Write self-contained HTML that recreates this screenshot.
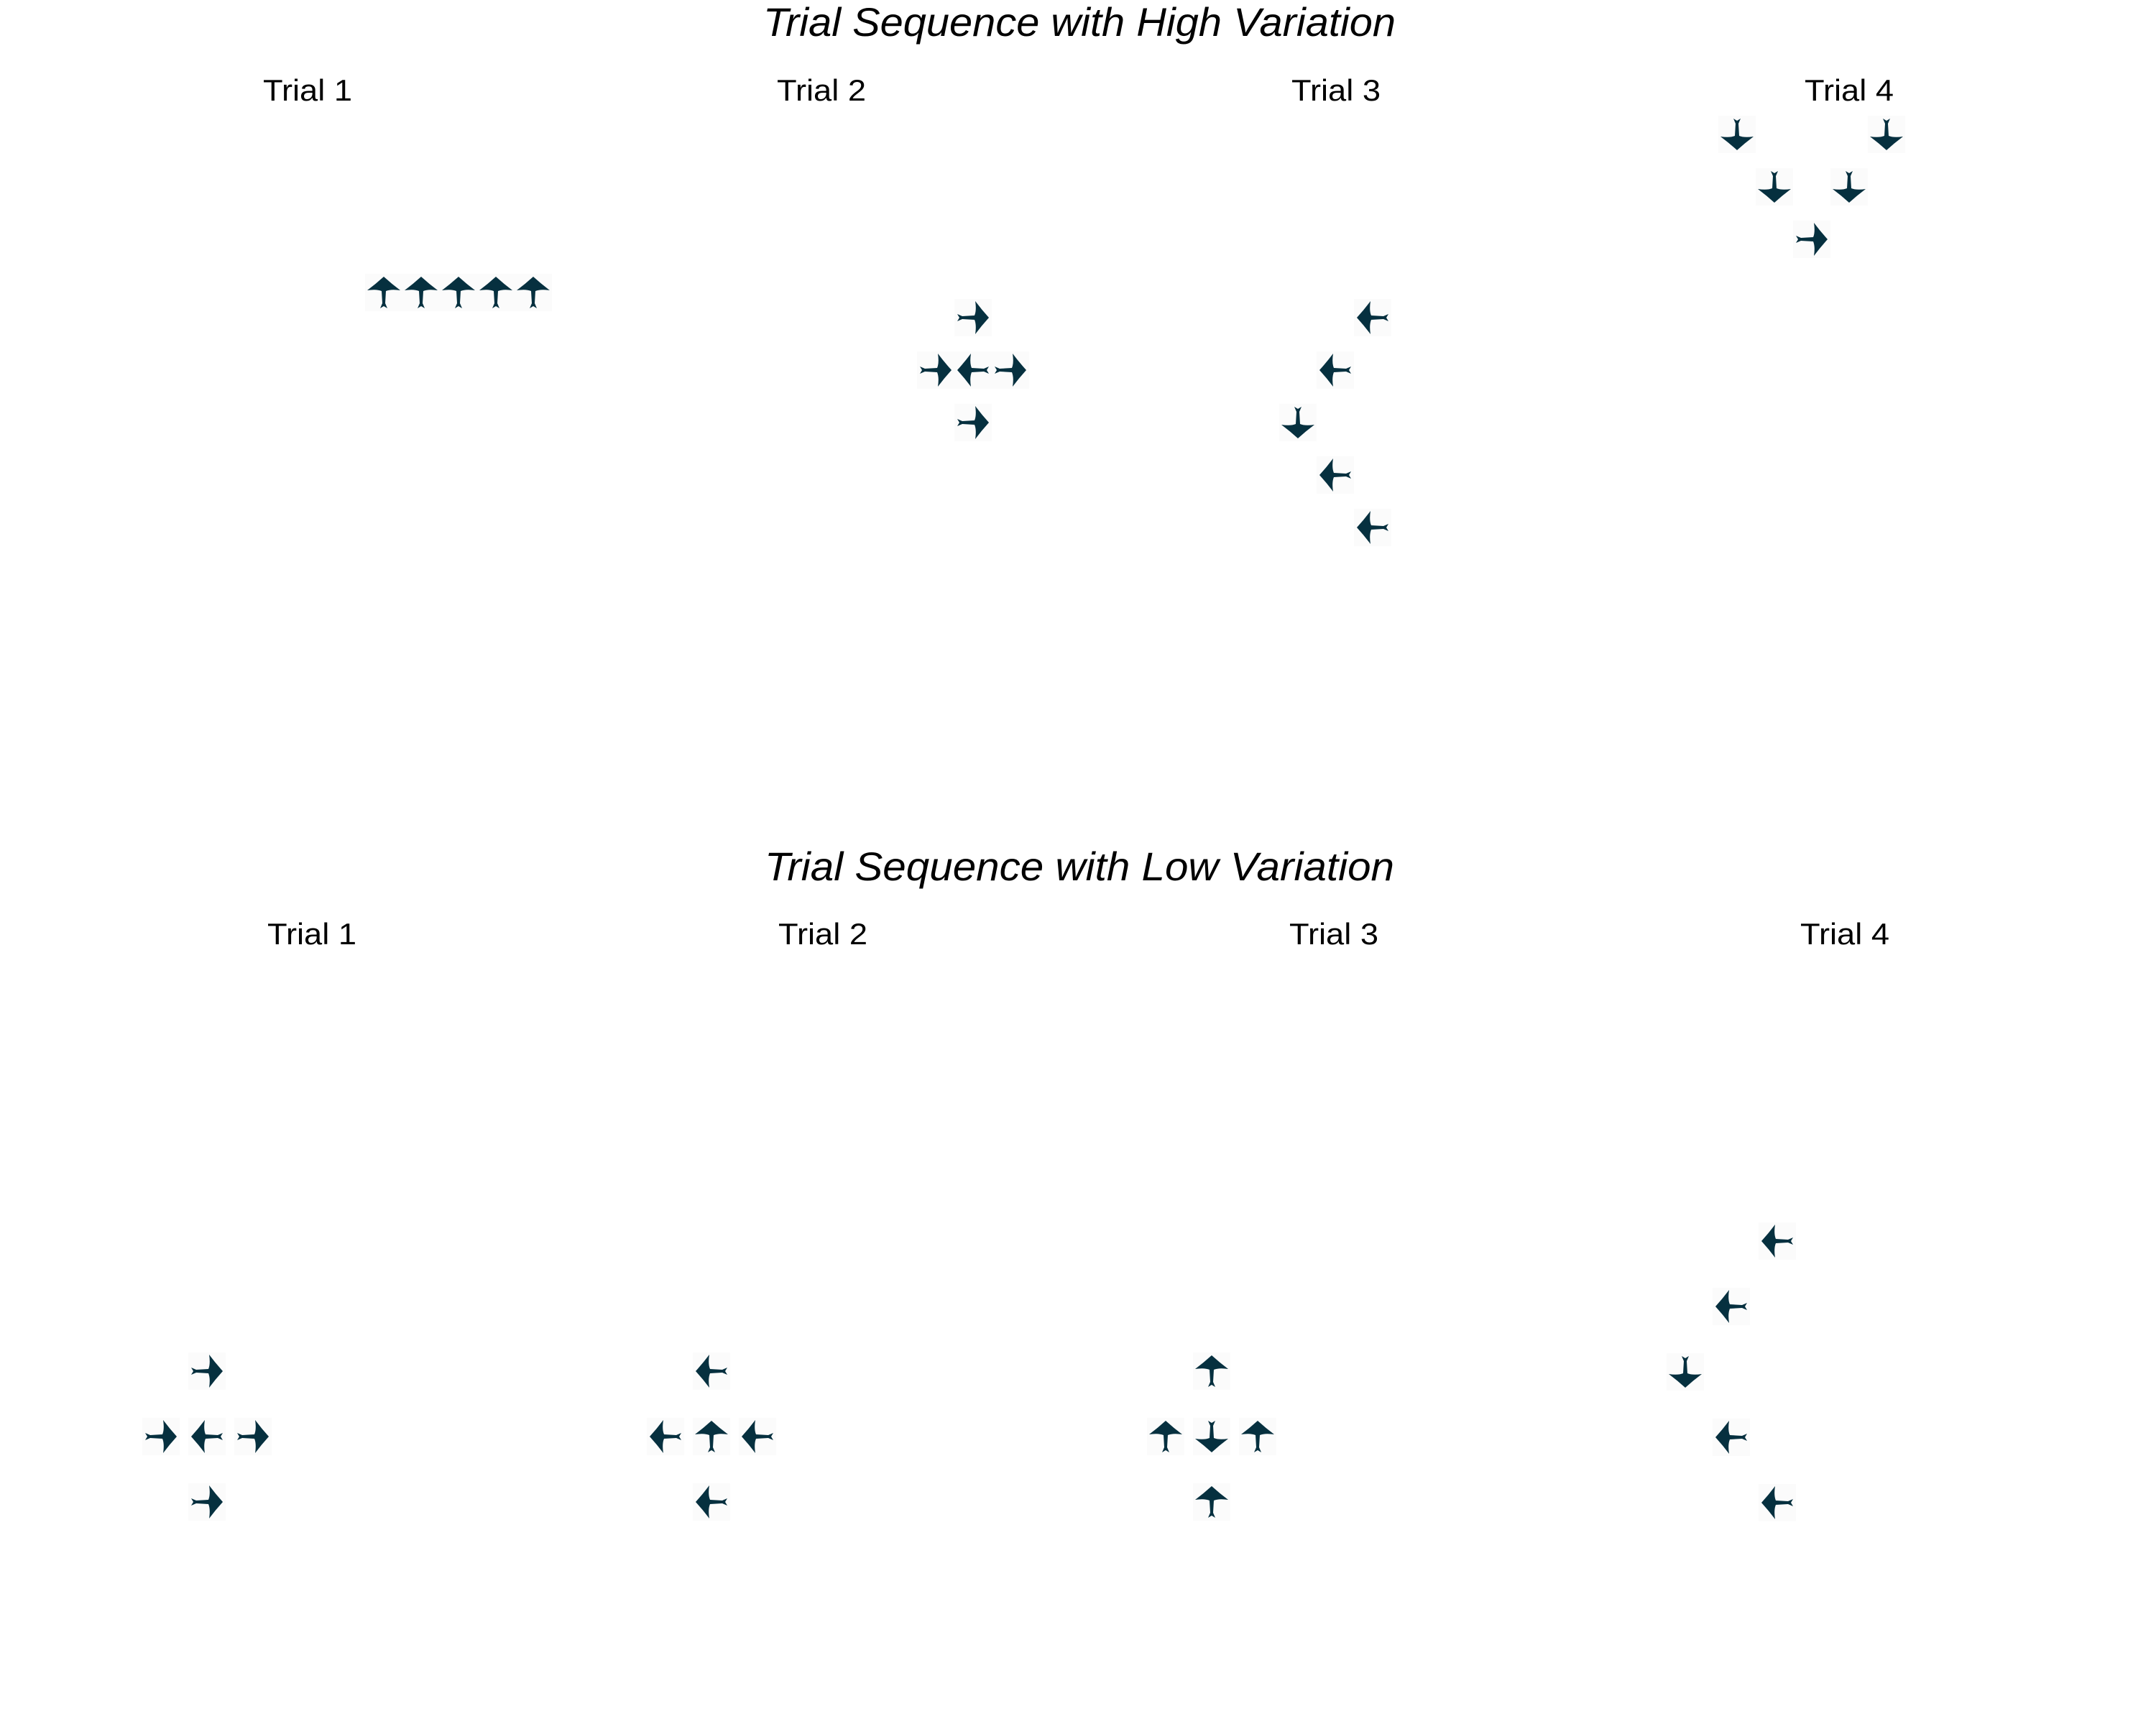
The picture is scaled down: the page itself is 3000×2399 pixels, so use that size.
<!DOCTYPE html>
<html><head><meta charset="utf-8">
<style>html,body{margin:0;padding:0;background:#fff;}svg{display:block;}</style>
</head><body>
<svg id="fig" width="3000" height="2399" viewBox="0 0 3000 2399" xmlns="http://www.w3.org/2000/svg" font-family="Liberation Sans, sans-serif">
<text x="1502" y="50" font-size="56" font-style="italic" text-anchor="middle" textLength="880" lengthAdjust="spacingAndGlyphs">Trial Sequence with High Variation</text>
<text x="1502" y="1225" font-size="56" font-style="italic" text-anchor="middle" textLength="876" lengthAdjust="spacingAndGlyphs">Trial Sequence with Low Variation</text>
<g id="marks"></g>
</svg>
<script>
// trial labels
const trialLabels = ["Trial 1","Trial 2","Trial 3","Trial 4"];
// high variation: grid offsets (col,row) and directions
const highCols = [[-2,-1,0,1,2],[0,-1,0,1,0],[1,0,-1,0,1],[-2,2,-1,1,0]];
const highRows = [[0,0,0,0,0],[-1,0,0,0,1],[-2,-1,0,1,2],[-1,-1,0,0,1]];
const highDirs = [["up","up","up","up","up"],["right","right","left","right","right"],["left","left","down","left","left"],["down","down","down","down","right"]];
// low variation
const lowCols = [[0,-1,0,1,0],[0,-1,0,1,0],[0,-1,0,1,0],[1,0,-1,0,1]];
const lowRows = [[-1,0,0,0,1],[-1,0,0,0,1],[-1,0,0,0,1],[-2,-1,0,1,2]];
const lowDirs = [["right","right","left","right","right"],["left","left","up","left","left"],["up","up","down","up","up"],["left","left","down","left","left"]];

const ns = "http://www.w3.org/2000/svg";
const marks = document.getElementById('marks');
const rot = {up:0,right:90,down:180,left:-90};
const arrowPath = "M0,-22 Q-11,-12 -23,-3 Q-10,-5 -3,-2 L-2,15 L-5,22 L0,19 L5,22 L2,15 L3,-2 Q10,-5 23,-3 Q11,-12 0,-22Z";

const panels = [
  {name:'high', cols:highCols, rows:highRows, dirs:highDirs, dx:52, dy:73,
   cx:[638,1354,1858,2521], cy:[407,515,588,260], lx:[428,1143,1859,2573], ly:140},
  {name:'low', cols:lowCols, rows:lowRows, dirs:lowDirs, dx:64, dy:91,
   cx:[288,990,1686,2409], cy:[1999,1999,1999,1909], lx:[434,1145,1856,2567], ly:1314}
];
function xPos(p,t,c){return p.cx[t]+c*p.dx;}
function yPos(p,t,r){return p.cy[t]+r*p.dy;}

panels.forEach(p=>{
  for(let t=0;t<4;t++){
    const lab=document.createElementNS(ns,'text');
    
    
    lab.setAttribute('x',p.lx[t]);lab.setAttribute('y',p.ly);
    lab.setAttribute('font-size','42');lab.setAttribute('text-anchor','middle');
    lab.setAttribute('textLength','124');lab.setAttribute('lengthAdjust','spacingAndGlyphs');
    lab.textContent=trialLabels[t];
    marks.appendChild(lab);
    for(let i=0;i<p.cols[t].length;i++){
      const x=xPos(p,t,p.cols[t][i]), y=yPos(p,t,p.rows[t][i]);
      const g=document.createElementNS(ns,'g');
      
      
      g.setAttribute('transform','translate('+x+','+y+')');
      const bg=document.createElementNS(ns,'rect');
      bg.setAttribute('x',-26);bg.setAttribute('y',-26);bg.setAttribute('width',52);bg.setAttribute('height',52);
      bg.setAttribute('fill','#fbfbfb');
      g.appendChild(bg);
      const a=document.createElementNS(ns,'path');
      a.setAttribute('d',arrowPath);a.setAttribute('fill','#06303f');
      a.setAttribute('transform','rotate('+rot[p.dirs[t][i]]+')');
      g.appendChild(a);
      marks.appendChild(g);
    }
  }
});
</script>
</body></html>
